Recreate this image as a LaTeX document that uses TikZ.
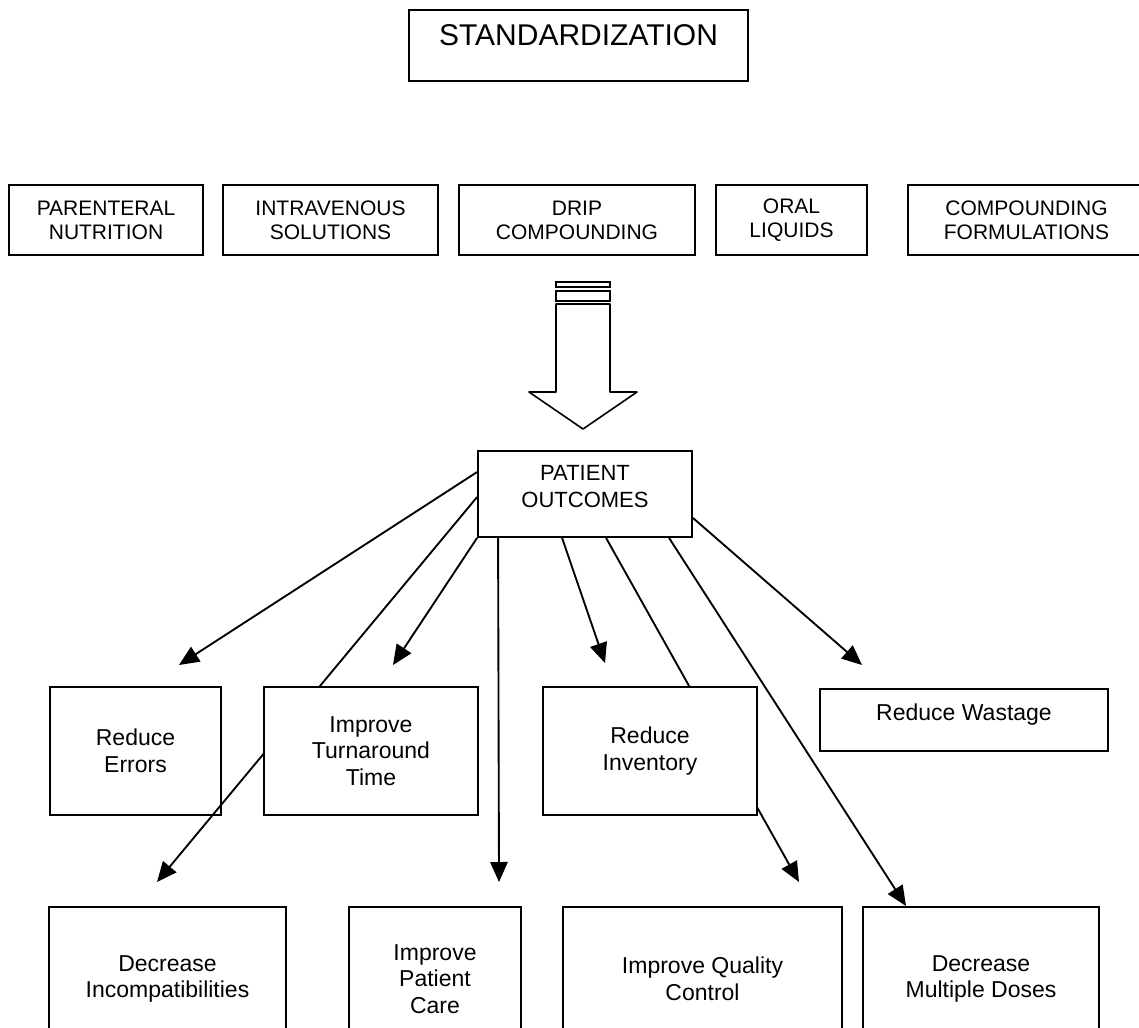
\documentclass[tikz,border=0pt]{standalone}
\usepackage{fontspec}
\setmainfont{Liberation Sans}
\usetikzlibrary{arrows.meta}
\usetikzlibrary{calc}

\begin{document}
\begin{tikzpicture}[x=0.75pt, y=-0.75pt, line width=1.4pt,
  >={Triangle[length=15pt,width=13pt]},
  box/.style={draw, fill=white, inner sep=0pt, align=center},
  areafont/.style={font=\fontsize{15.75}{18}\selectfont},
  goalfont/.style={font=\fontsize{17.25}{20}\selectfont}]

 \useasboundingbox (0,0) rectangle (1139,1028);
 \clip (0,0) rectangle (1139,1028);

 % Title box, text in its upper part
 \node [box, anchor=north, minimum width=254.25pt, text height=26.8pt, text depth=26.25pt,
        font=\fontsize{22.5}{27}\selectfont] (std) at (578.5,9) {STANDARDIZATION};

 % Row of compounding areas
 \node [box, areafont, minimum width=145.5pt, minimum height=52.5pt] (pn) at (106,220) {PARENTERAL\\NUTRITION};
 \node [box, areafont, minimum width=161.25pt, minimum height=52.5pt] (iv) at (330.5,220) {INTRAVENOUS\\SOLUTIONS};
 \node [box, areafont, minimum width=177pt, minimum height=52.5pt] (drip) at (577,220) {DRIP\\COMPOUNDING};
 \node [box, areafont, minimum width=113.25pt, minimum height=52.5pt] (oral) at (791.5,220) {ORAL\\LIQUIDS};
 \node [box, areafont, minimum width=177.75pt, minimum height=52.5pt] (form) at (1026.5,220) {COMPOUNDING\\FORMULATIONS};

 % Big hollow arrow down to the outcomes
 \draw [line width=1.2pt] (556,282) rectangle (610,287);
 \draw [line width=1.2pt] (556,291) rectangle (610,301);
 \draw [line width=1.2pt, line join=round] (556,304) -- (556,392) -- (529,392) -- (583,429)
   -- (637,392) -- (610,392) -- (610,304) -- cycle;

 % Patient outcomes box, text a bit high
 \node [box, minimum width=160.5pt, minimum height=64.5pt] (po) at (585,494) {};
 \node [align=center, font=\fontsize{16.5}{20.25}\selectfont] (potext) at (585,487) {PATIENT\\OUTCOMES};

 % Free ends of the connectors
 \coordinate (errtip) at (179,665);
 \coordinate (tattip) at (393,665);
 \coordinate (inctip) at (157,882);
 \coordinate (caretip) at (499,882);
 \coordinate (invtip) at (605,663);
 \coordinate (qctip) at (799,882);
 \coordinate (mdtip) at (906,906);
 \coordinate (wastip) at (862,665);

 % Reduce Errors sits under the crossing line
 \node [box, goalfont, minimum width=128.25pt, minimum height=96pt] (err) at (135.5,751) {Reduce\\Errors};

 % Connectors out of the outcomes box
 \draw [->] ($(po.north west)+(0,22)$) -- (errtip);
 \draw [->] ($(po.north west)+(0,47)$) -- (inctip);
 \draw [->] (po.south west) -- (tattip);
 \draw [->] ($(po.south west)+(21,0)$) -- (caretip);
 \draw [->] ($(po.south west)+(85,0)$) -- (invtip);
 \draw [->] ($(po.south west)+(129,0)$) -- (qctip);
 \draw [->] ($(po.south west)+(192,0)$) -- (mdtip);
 \draw [->] ($(po.south east)+(0,-20)$) -- (wastip);

 % First row of goals (drawn over the long lines)
 \node [box, goalfont, minimum width=160.5pt, minimum height=96pt] (tat) at (371,751) {Improve\\Turnaround\\Time};
 \node [box, goalfont, minimum width=160.5pt, minimum height=96pt] (inv) at (650,751) {Reduce\\Inventory};
 \node [box, goalfont, anchor=north, minimum width=216pt, text height=24pt, text depth=22.5pt] (was) at (964,688) {Reduce Wastage};

 % Second row of goals
 \node [box, goalfont, minimum width=177.75pt, minimum height=108pt] (inc) at (167.5,979) {Decrease\\Incompatibilities};
 \node [box, goalfont, minimum width=129pt, minimum height=108pt] (care) at (435,979) {Improve\\Patient\\Care};
 \node [box, goalfont, minimum width=209.25pt, minimum height=108pt] (qc) at (702.5,979) {Improve Quality\\Control};
 \node [box, goalfont, minimum width=177pt, minimum height=108pt] (md) at (981,979) {Decrease\\Multiple Doses};

\end{tikzpicture}
\end{document}
